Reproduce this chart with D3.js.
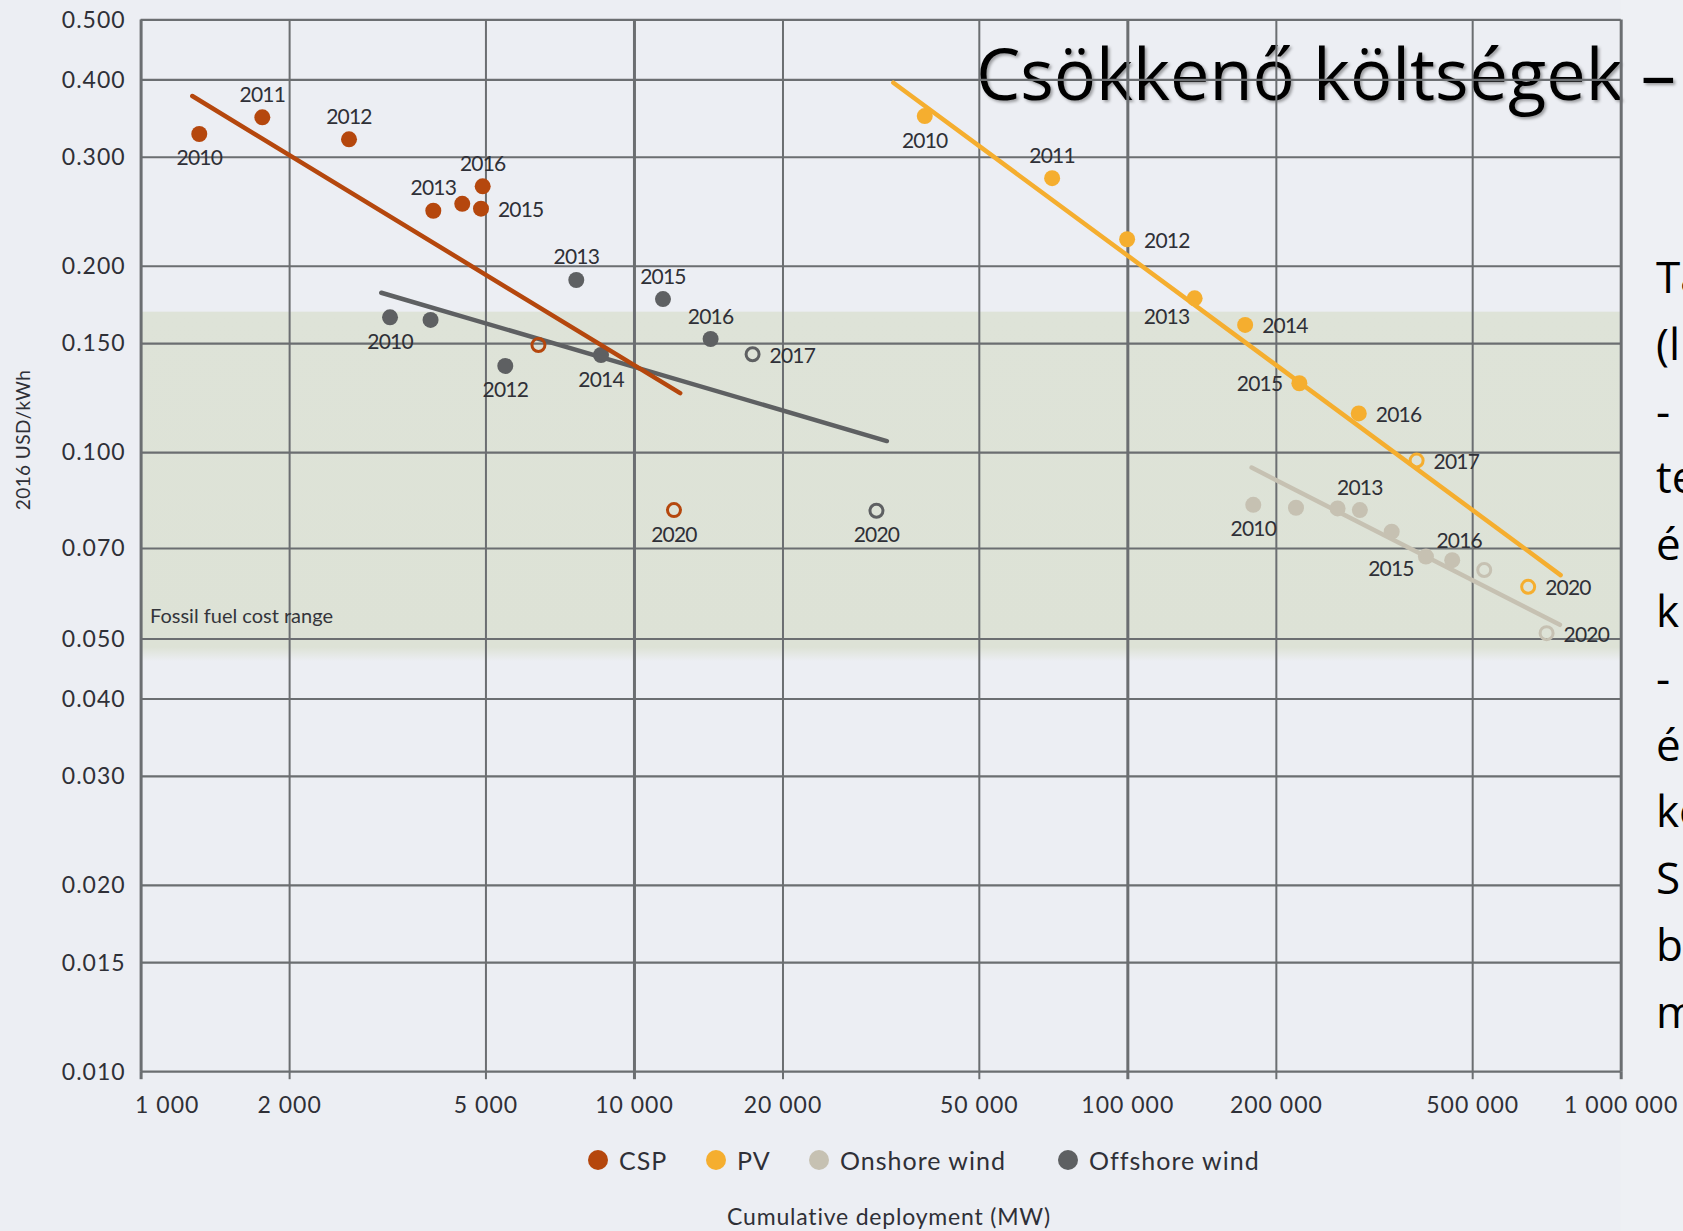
<!DOCTYPE html>
<html><head><meta charset="utf-8">
<script src="https://cdn.jsdelivr.net/npm/d3@7"></script>
<style>
html,body{margin:0;padding:0;background:#eceef3;overflow:hidden;}
svg{display:block;}
</style></head><body>
<svg id="chart" width="1683" height="1231"></svg>
<script>
// ---------------- DATA ----------------
const xTickValues = [1000, 2000, 5000, 10000, 20000, 50000, 100000, 200000, 500000, 1000000];
const xTickLabels = ["1 000", "2 000", "5 000", "10 000", "20 000", "50 000", "100 000", "200 000", "500 000", "1 000 000"];
const yTickValues = [0.010, 0.015, 0.020, 0.030, 0.040, 0.050, 0.070, 0.100, 0.150, 0.200, 0.300, 0.400, 0.500];
const yTickLabels = ["0.010", "0.015", "0.020", "0.030", "0.040", "0.050", "0.070", "0.100", "0.150", "0.200", "0.300", "0.400", "0.500"];

const years = [2010, 2011, 2012, 2013, 2014, 2015, 2016, 2017, 2020];
const projected = [false, false, false, false, false, false, false, true, true];

const cspDeploy = [1315, 1765, 2645, 3920, 4487, 4897, 4936, 6403, 12053];
const cspCost   = [0.3265, 0.3474, 0.3201, 0.2454, 0.2518, 0.2473, 0.2687, 0.1489, 0.0806];
const cspLabels = ["2010", "2011", "2012", "2013", "", "2015", "2016", "", "2020"];
const cspTrend  = [[1273, 0.376], [12406, 0.1245]];

const offDeploy = [3203, 3870, 5485, 7640, 8575, 11450, 14300, 17395, 31010];
const offCost   = [0.1651, 0.1635, 0.1378, 0.1897, 0.1435, 0.1767, 0.1523, 0.1439, 0.0804];
const offLabels = ["2010", "", "2012", "2013", "2014", "2015", "2016", "2017", "2020"];
const offTrend  = [[3075, 0.1809], [32550, 0.1042]];

const pvDeploy = [38850, 70400, 99900, 136900, 173300, 223200, 294500, 385800, 649300];
const pvCost   = [0.349, 0.277, 0.2207, 0.1772, 0.1605, 0.1292, 0.1155, 0.0969, 0.0606];
const pvLabels = ["2010", "2011", "2012", "2013", "2014", "2015", "2016", "2017", "2020"];
const pvTrend  = [[33560, 0.3951], [755400, 0.0633]];

const onDeploy = [180000, 219700, 266800, 296000, 343400, 402900, 455500, 528900, 707600];
const onCost   = [0.0822, 0.0813, 0.0811, 0.0806, 0.0744, 0.0678, 0.0669, 0.0645, 0.0510];
const onLabels = ["2010", "", "", "2013", "", "2015", "2016", "", "2020"];
const onTrend  = [[178600, 0.0944], [753000, 0.0526]];

const fossilRange = [0.047, 0.1686];

const legendNames = ["CSP", "PV", "Onshore wind", "Offshore wind"];

const titleText = "Csökkenő költségek –";
const sideText = ["Ta", "(l", "-", "te", "é", "k", "-", "é", "ko", "S", "b", "m"];

// ---------------- STYLE / LAYOUT ----------------
const colors = { csp: "#b5470d", pv: "#f5ae2f", on: "#c6c1b2", off: "#5e6062" };
const labelPlacement = {
  csp: ["b", "a", "a", "a", "", "r", "a", "", "b"],
  off: ["b", "", "b", "a", "b", "a", "a", "r", "b"],
  pv:  ["b", "a", "r", "bl", "r", "l", "r", "r", "r"],
  on:  ["b", "", "", "a", "bl2", "bl2", "ar", "", "r"]
};
const offsets = {
  a:   { dx: 0,   dy: -23, anchor: "middle" },
  b:   { dx: 0,   dy: 24,  anchor: "middle" },
  r:   { dx: 17,  dy: 1,   anchor: "start" },
  l:   { dx: -17, dy: 0,   anchor: "end" },
  bl:  { dx: -28, dy: 18,  anchor: "middle" },
  bl2: { dx: -35, dy: 12,  anchor: "middle" },
  ar:  { dx: 7,   dy: -20, anchor: "middle" }
};

const X0 = 140.6, X1 = 1620.7, Y0 = 19.4, Y1 = 1071.2;
const bg = "#eceef3", gridCol = "#6b6e71", textCol = "#2f3037";
const chartFont = "Lato, 'Open Sans', sans-serif";

const svg = d3.select("#chart");
const defs = svg.append("defs");

const x = d3.scaleLog().domain([1000, 1000000]).range([X0, X1]);
const y = d3.scaleLog().domain([0.01, 0.5]).range([Y1, Y0]);

// background
svg.append("rect").attr("width", 1683).attr("height", 1231).attr("fill", bg);
svg.append("rect").attr("x", X1).attr("y", 0).attr("width", 1683 - X1).attr("height", 1231).attr("fill", "#eef0f4");

// fossil band with soft bottom edge
const bandTop = y(fossilRange[1]), bandBot = y(fossilRange[0]) + 6;
const grad = defs.append("linearGradient").attr("id", "band").attr("x1", 0).attr("x2", 0).attr("y1", 0).attr("y2", 1);
const fadeStart = 1 - 14 / (bandBot - bandTop);
grad.append("stop").attr("offset", 0).attr("stop-color", "#dee3d8");
grad.append("stop").attr("offset", fadeStart).attr("stop-color", "#dde2d6");
grad.append("stop").attr("offset", 1).attr("stop-color", bg);
svg.append("rect").attr("x", X0).attr("y", bandTop).attr("width", X1 - X0).attr("height", bandBot - bandTop)
  .attr("fill", "url(#band)");

// title (under grid)
const sh = defs.append("filter").attr("id", "sh").attr("x", "-5%").attr("y", "-20%").attr("width", "110%").attr("height", "140%");
sh.append("feDropShadow").attr("dx", 2).attr("dy", 2).attr("stdDeviation", 1.6).attr("flood-color", "#000").attr("flood-opacity", 0.35);
svg.append("text").text(titleText)
  .attr("x", 976).attr("y", 100)
  .attr("font-family", "'Open Sans', 'Noto Sans', sans-serif").attr("font-size", 71)
  .attr("textLength", 700).attr("lengthAdjust", "spacingAndGlyphs")
  .attr("fill", "#000").attr("filter", "url(#sh)");

// grid + axes
const gy = svg.append("g").attr("transform", `translate(${X0},0)`)
  .call(d3.axisLeft(y).tickValues(yTickValues).tickSize(-(X1 - X0)).tickPadding(15)
    .tickFormat((d, i) => yTickLabels[i]));
gy.select(".domain").remove();
gy.selectAll("line").attr("stroke", gridCol).attr("stroke-width", 2.2);
gy.selectAll("text").attr("font-family", chartFont).attr("font-size", 23).attr("letter-spacing", 1)
  .attr("fill", textCol).attr("dy", "0.34em");

const isDecade = d => Math.abs(Math.log10(d) - Math.round(Math.log10(d))) < 1e-9;
const gx = svg.append("g").attr("transform", `translate(0,${Y1})`)
  .call(d3.axisBottom(x).tickValues(xTickValues).tickSize(-(Y1 - Y0)).tickPadding(25)
    .tickFormat((d, i) => xTickLabels[i]));
gx.select(".domain").remove();
gx.selectAll("line").attr("stroke", gridCol).attr("stroke-width", d => isDecade(d) ? 3 : 2);
gx.selectAll("text").attr("font-family", chartFont).attr("font-size", 23).attr("letter-spacing", 1)
  .attr("fill", textCol)
  .attr("text-anchor", (d, i) => i === 0 ? "start" : "middle")
  .attr("dx", (d, i) => i === 0 ? -6 : 0);

// small ticks below axis
const gt = svg.append("g").attr("transform", `translate(0,${Y1})`)
  .call(d3.axisBottom(x).tickValues(xTickValues).tickSize(8).tickFormat(""));
gt.select(".domain").remove();
gt.selectAll("line").attr("stroke", gridCol).attr("stroke-width", d => isDecade(d) ? 3 : 2);

// fossil label
svg.append("text").text("Fossil fuel cost range").attr("x", 150).attr("y", 623)
  .attr("font-family", chartFont).attr("font-size", 20).attr("fill", "#34353b");

// series
const line = d3.line().x(d => x(d[0])).y(d => y(d[1]));
function drawSeries(key, deploy, cost, labels, trend, markersFirst) {
  const g = svg.append("g");
  const pts = deploy.map((d, i) => ({ x: d, y: cost[i], open: projected[i], label: labels[i], pos: labelPlacement[key][i] }));
  const drawMarkers = () => {
    g.selectAll(null).data(pts).enter().append("circle")
      .attr("cx", d => x(d.x)).attr("cy", d => y(d.y))
      .attr("r", d => d.open ? 6.5 : 8)
      .attr("fill", d => d.open ? "none" : colors[key])
      .attr("stroke", d => d.open ? colors[key] : "none")
      .attr("stroke-width", 3);
  };
  const drawLine = () => {
    g.append("path").datum(trend).attr("d", line).attr("fill", "none")
      .attr("stroke", colors[key]).attr("stroke-width", 4.5).attr("stroke-linecap", "round");
  };
  if (markersFirst) { drawMarkers(); drawLine(); } else { drawLine(); drawMarkers(); }
  g.selectAll(null).data(pts.filter(d => d.label)).enter().append("text")
    .text(d => d.label)
    .attr("x", d => x(d.x) + offsets[d.pos].dx)
    .attr("y", d => y(d.y) + offsets[d.pos].dy + 7.5)
    .attr("text-anchor", d => offsets[d.pos].anchor)
    .attr("font-family", chartFont).attr("font-size", 21).attr("letter-spacing", -0.8)
    .attr("fill", textCol);
}
drawSeries("off", offDeploy, offCost, offLabels, offTrend, true);
drawSeries("csp", cspDeploy, cspCost, cspLabels, cspTrend, false);
drawSeries("on", onDeploy, onCost, onLabels, onTrend, false);
drawSeries("pv", pvDeploy, pvCost, pvLabels, pvTrend, false);

// y axis title
svg.append("text").text("2016 USD/kWh")
  .attr("transform", "translate(30,440) rotate(-90)")
  .attr("text-anchor", "middle").attr("font-family", chartFont).attr("font-size", 19)
  .attr("letter-spacing", 0.4).attr("fill", textCol);

// legend
const legendX = [598, 716, 819, 1068];
const legendKeys = ["csp", "pv", "on", "off"];
const lg = svg.append("g");
legendNames.forEach((name, i) => {
  lg.append("circle").attr("cx", legendX[i]).attr("cy", 1160).attr("r", 10).attr("fill", colors[legendKeys[i]]);
  lg.append("text").text(name).attr("x", legendX[i] + 21).attr("y", 1170)
    .attr("font-family", chartFont).attr("font-size", 25).attr("letter-spacing", 1).attr("fill", textCol);
});

// x axis title
svg.append("text").text("Cumulative deployment (MW)").attr("x", 889).attr("y", 1225)
  .attr("text-anchor", "middle").attr("font-family", chartFont).attr("font-size", 23)
  .attr("letter-spacing", 0.8).attr("fill", textCol);

// side text (cut off at the right edge, as in the slide)
svg.append("g").selectAll("text").data(sideText).enter().append("text")
  .text(d => d).attr("x", 1656).attr("y", (d, i) => 293 + i * 66.8)
  .attr("font-family", "'Open Sans', 'Noto Sans', sans-serif").attr("font-size", 44).attr("fill", "#000");
</script>
</body></html>
